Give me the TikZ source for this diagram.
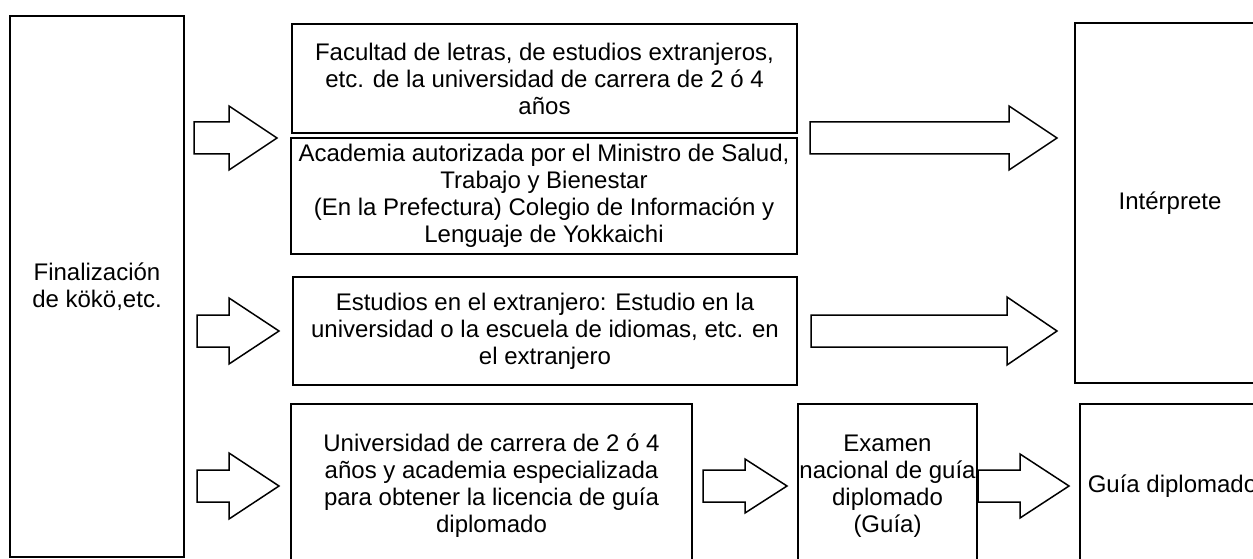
\documentclass[tikz,border=0pt]{standalone}
\usepackage{fontspec}
\setmainfont{Liberation Sans}
\usetikzlibrary{calc}
\tikzset{
  box/.style={draw, line width=1.5pt, anchor=north west, inner sep=0pt, outer sep=0pt,
    align=center, font=\fontsize{24}{27}\selectfont},
  fat/.style 2 args={draw, line width=1.5pt, to path={let \p1=(\tikztostart), \p2=(\tikztotarget) in
    (\x1,\y1+16pt) -- (\x2-#2,\y1+16pt) -- (\x2-#2,\y1+#1) -- (\x2,\y1)
    -- (\x2-#2,\y1-#1) -- (\x2-#2,\y1-16pt) -- (\x1,\y1-16pt) -- cycle}},
}
\begin{document}
\begin{tikzpicture}[x=1pt, y=-1pt]
  \useasboundingbox (0,0) rectangle (1253,559);

  % Start and routes
  \node[box, minimum width=174, minimum height=541] (fin) at (10,16) {Finalización\\de kökö,etc.};
  \node[box, minimum width=505, minimum height=109] (fac) at (292,24)
    {Facultad de letras, de estudios extranjeros,\\etc. de la universidad de carrera de 2 ó 4\\años};
  \node[box, minimum width=506, minimum height=116] (aca) at (291,138)
    {Academia autorizada por el Ministro de Salud,\\Trabajo y Bienestar\\(En la Prefectura) Colegio de Información y\\Lenguaje de Yokkaichi};
  \node[box, minimum width=504, minimum height=108] (ext) at (293,277)
    {Estudios en el extranjero: Estudio en la\\universidad o la escuela de idiomas, etc. en\\el extranjero};
  \node[box, minimum width=401, minimum height=164] (uni) at (291,404)
    {Universidad de carrera de 2 ó 4\\años y academia especializada\\para obtener la licencia de guía\\diplomado};
  \node[box, minimum width=179, minimum height=164] (exa) at (798,404)
    {Examen\\nacional de guía\\diplomado\\(Guía)};

  % Results
  \node[box, minimum width=190, minimum height=360] (int) at (1075,23) {Intérprete};
  \node[box, minimum width=185, minimum height=164] (gui) at (1080,404) {Guía diplomado};

  % Block arrows
  \coordinate (a1s) at ($(fin.east |- aca.north)+(10,0)$);
  \coordinate (a1e) at ($(aca.north west)+(-14,0)$);
  \coordinate (a2s) at ($(fin.east |- ext.west)+(13,0)$);
  \coordinate (a2e) at ($(ext.west)+(-14,0)$);
  \coordinate (a3s) at ($(fin.east |- uni.west)+(13,0)$);
  \coordinate (a3e) at ($(uni.west)+(-12,0)$);
  \coordinate (a4s) at ($(aca.north east)+(13,0)$);
  \coordinate (a4e) at ($(int.west |- aca.north)+(-18,0)$);
  \coordinate (a5s) at ($(ext.east)+(14,0)$);
  \coordinate (a5e) at ($(int.west |- ext.east)+(-18,0)$);
  \coordinate (a6s) at ($(uni.east)+(11,0)$);
  \coordinate (a6e) at ($(exa.west)+(-11,0)$);
  \coordinate (a7s) at ($(exa.east)+(1,0)$);
  \coordinate (a7e) at ($(gui.west)+(-11,0)$);

  \draw[fat={32pt}{48pt}] (a1s) to (a1e);
  \draw[fat={33pt}{50pt}] (a2s) to (a2e);
  \draw[fat={33pt}{50pt}] (a3s) to (a3e);
  \draw[fat={32pt}{48pt}] (a4s) to (a4e);
  \draw[fat={34pt}{50pt}] (a5s) to (a5e);
  \draw[fat={27pt}{42pt}] (a6s) to (a6e);
  \draw[fat={32pt}{49pt}] (a7s) to (a7e);
\end{tikzpicture}
\end{document}
